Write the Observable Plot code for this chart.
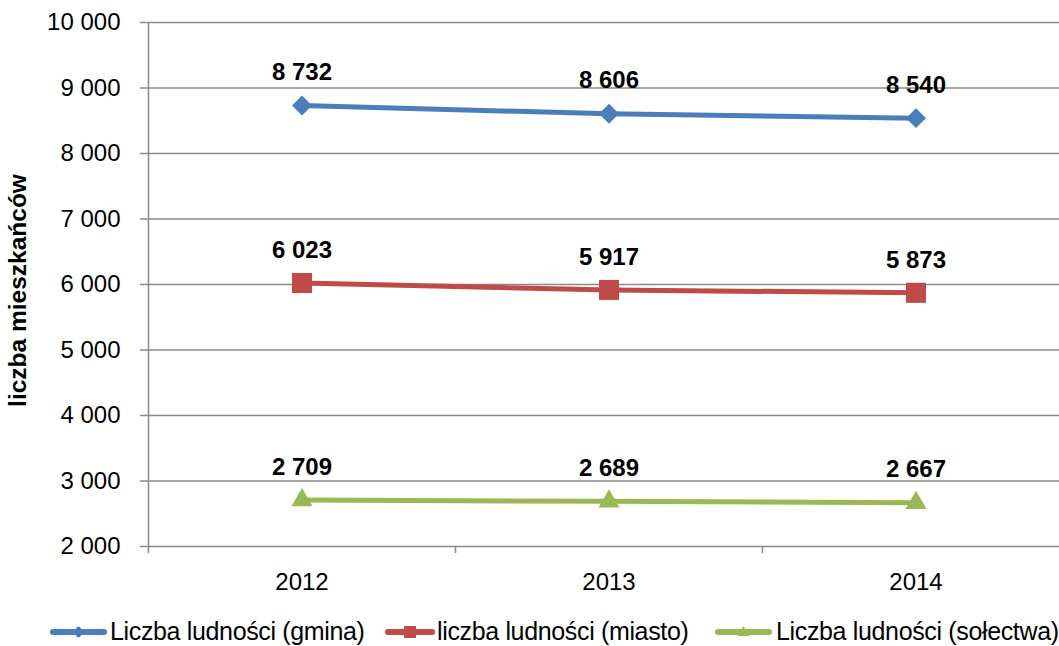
<!DOCTYPE html>
<html>
<head>
<meta charset="utf-8">
<script src="https://cdn.jsdelivr.net/npm/d3@7"></script>
<script src="https://cdn.jsdelivr.net/npm/@observablehq/plot@0.6"></script>
<style>
  html, body { margin: 0; padding: 0; background: #fff; overflow: hidden; }
  body { width: 1059px; height: 646px; font-family: "Liberation Sans", Arial, sans-serif; }
  #legend { position: relative; height: 36px; width: 1059px; font-size: 25px; color: #000; }
  .item { position: absolute; top: 0; height: 36px; white-space: nowrap; }
  .item svg { position: absolute; top: 0; left: 0; }
  .item span { position: absolute; top: 9px; line-height: 25px; letter-spacing: -0.35px; }
</style>
</head>
<body>
<div id="chart"></div>
<div id="legend"></div>
<script>
const years = [2012, 2013, 2014];
const gmina = [8732, 8606, 8540];
const miasto = [6023, 5917, 5873];
const solectwa = [2709, 2689, 2667];
const seriesNames = ["Liczba ludności (gmina)", "liczba ludności (miasto)", "Liczba ludności (sołectwa)"];
const seriesColors = ["#4A7EBB", "#BE4B48", "#98B954"];
const yTicks = [2000, 3000, 4000, 5000, 6000, 7000, 8000, 9000, 10000];
const yTitle = "liczba mieszkańców";

const fmt = d => d3.format(",")(d).replace(/,/g, " ");
const seriesValues = [gmina, miasto, solectwa];
const data = [];
seriesNames.forEach((s, i) => years.forEach((y, j) => data.push({year: y, value: seriesValues[i][j], series: s})));

const gray = "#8a8a8a";
const symbols = ["diamond2", "square", "triangle"];
const radii = [9, 11.3, 7.8];

const boundaries = [years[0] - 0.5, ...years.map(y => y + 0.5)];

const marks = [
  Plot.gridY(yTicks, {stroke: gray, strokeOpacity: 1, strokeWidth: 1.5}),
  Plot.ruleX([boundaries[0]], {stroke: gray, strokeWidth: 1.5}),
  Plot.axisY({ticks: yTicks, tickSize: 8, tickPadding: 20, tickFormat: fmt, fontSize: 24, stroke: gray, strokeWidth: 1.5, label: null, color: "#000"}),
  Plot.axisX({ticks: boundaries, tickSize: 7, tickFormat: () => "", stroke: gray, strokeWidth: 1.5, label: null}),
  Plot.axisX({ticks: years, tickSize: 0, tickPadding: 26, tickFormat: d => String(d), fontSize: 24, label: null}),
  Plot.text([yTitle], {frameAnchor: "left", textAnchor: "middle", rotate: -90, dx: -130, dy: 6, fontSize: 24.5, fontWeight: "bold", fill: "#000"}),
  Plot.line(data, {x: "year", y: "value", z: "series", stroke: "series", strokeWidth: 5})
];
seriesNames.forEach((s, i) => {
  marks.push(Plot.dot(data.filter(d => d.series === s), {x: "year", y: "value", symbol: () => symbols[i], r: radii[i], fill: seriesColors[i], stroke: "none"}));
});
marks.push(Plot.text(data, {x: "year", y: "value", text: d => fmt(d.value), dy: -33, fontSize: 24, fontWeight: "bold", fill: "#000"}));

const chart = Plot.plot({
  width: 1059,
  height: 610,
  marginLeft: 148,
  marginRight: 0,
  marginTop: 22,
  marginBottom: 64,
  style: {fontFamily: "'Liberation Sans', Arial, sans-serif", background: "#fff", color: "#000"},
  x: {type: "linear", domain: [boundaries[0], boundaries[boundaries.length - 1]], range: [148, 1069]},
  y: {domain: [2000, 10000]},
  color: {domain: seriesNames, range: seriesColors},
  symbol: {domain: ["diamond2", "square", "triangle"], range: ["diamond2", "square", "triangle"], type: "identity"},
  marks
});
document.getElementById("chart").appendChild(chart);

// Legend (HTML below the SVG)
const legend = document.getElementById("legend");
const legendPos = [{line: 50, text: 110}, {line: 385, text: 437}, {line: 715, text: 776}];
const legendW = [57, 50, 57];
seriesNames.forEach((s, i) => {
  const item = document.createElement("div");
  item.className = "item";
  item.style.left = legendPos[i].line + "px";
  const w = legendW[i];
  const cx = w / 2, cy = 22;
  let marker = "";
  if (i === 0) marker = `<path d="M${cx},${cy-6}L${cx+6},${cy}L${cx},${cy+6}L${cx-6},${cy}Z" fill="${seriesColors[i]}"/>`;
  if (i === 1) marker = `<rect x="${cx-6}" y="${cy-6}" width="12" height="12" fill="${seriesColors[i]}"/>`;
  if (i === 2) marker = `<path d="M${cx},${cy-6}L${cx+6},${cy+4}L${cx-6},${cy+4}Z" fill="${seriesColors[i]}"/>`;
  item.innerHTML = `<svg width="${w}" height="36"><line x1="3" x2="${w-3}" y1="${cy}" y2="${cy}" stroke="${seriesColors[i]}" stroke-width="6" stroke-linecap="round"/>${marker}</svg><span style="left:${legendPos[i].text - legendPos[i].line}px">${s}</span>`;
  legend.appendChild(item);
});
</script>
</body>
</html>
